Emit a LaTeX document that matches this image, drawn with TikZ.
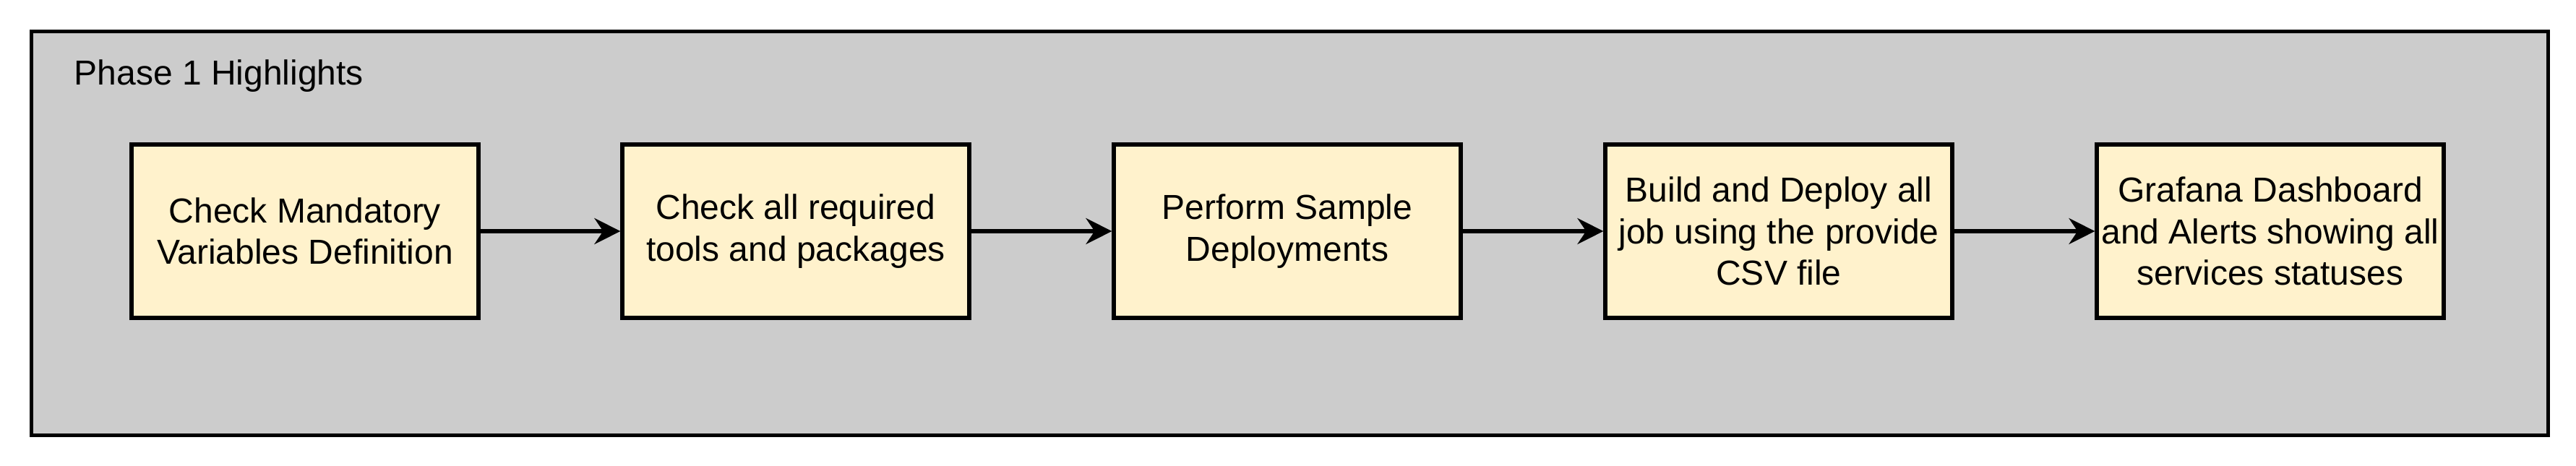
\documentclass[tikz,border=0pt]{standalone}
\usepackage{fontspec}
\setmainfont{Liberation Sans}
\usetikzlibrary{arrows.meta}
\definecolor{panelgray}{HTML}{CCCCCC}
\definecolor{boxyellow}{HTML}{FFF2CC}
\tikzset{
  panel/.style={draw=black, fill=panelgray, line width=1.3pt},
  stepbox/.style={draw=black, fill=boxyellow, line width=1.3pt, minimum width=120pt, minimum height=60pt, inner sep=0pt, align=center, font=\fontsize{12}{14.4}\selectfont},
  flow/.style={draw=black, line width=1.3pt, -{Stealth[length=9pt,width=9pt,inset=3pt]}},
  title/.style={anchor=west, inner sep=0pt, font=\fontsize{12}{14.4}\selectfont}
}
\begin{document}
\begin{tikzpicture}[x=1pt,y=-1pt]
\useasboundingbox (0,0) rectangle (891,161);
\node[panel, minimum width=870.5pt, minimum height=139.75pt, anchor=north west, inner sep=0pt] (frame) at (10.25,10.25) {};
\node[title] (ttl) at (25.5,26.2) {Phase 1 Highlights};
\node[stepbox] (s1) at (105.5,80) {Check Mandatory\\Variables Definition};
\node[stepbox] (s2) at (275.25,80) {Check all required\\tools and packages};
\node[stepbox] (s3) at (445.25,80) {Perform Sample\\Deployments};
\node[stepbox] (s4) at (615.25,80) {Build and Deploy all\\job using the provide\\CSV file};
\node[stepbox] (s5) at (785.25,80) {Grafana Dashboard\\and Alerts showing all\\services statuses};
\draw[flow] (s1) -- (s2);
\draw[flow] (s2) -- (s3);
\draw[flow] (s3) -- (s4);
\draw[flow] (s4) -- (s5);
\end{tikzpicture}
\end{document}
